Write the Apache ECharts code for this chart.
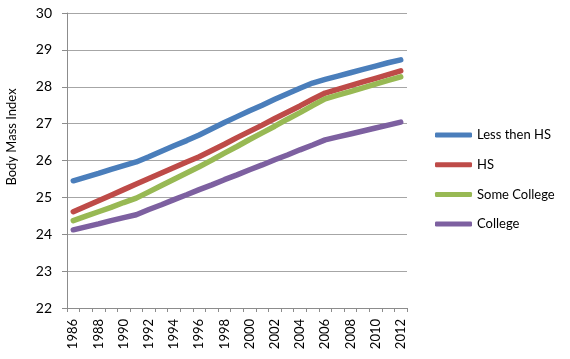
<!DOCTYPE html>
<html>
<head>
<meta charset="utf-8">
<script src="https://cdn.jsdelivr.net/npm/echarts@6/dist/echarts.min.js"></script>
<style>html,body{margin:0;padding:0;background:#fff;}#c{width:570px;height:359px;}</style>
</head>
<body>
<div id="c"></div>
<script>
const years = ['1986','1987','1988','1989','1990','1991','1992','1993','1994','1995','1996','1997','1998','1999','2000','2001','2002','2003','2004','2005','2006','2007','2008','2009','2010','2011','2012'];
const lessThenHS = [25.45,25.55,25.65,25.76,25.86,25.96,26.10,26.25,26.40,26.54,26.69,26.86,27.03,27.19,27.35,27.50,27.66,27.81,27.96,28.10,28.20,28.29,28.38,28.47,28.56,28.65,28.73];
const hs = [24.61,24.76,24.91,25.06,25.21,25.36,25.51,25.66,25.81,25.96,26.10,26.27,26.44,26.62,26.79,26.96,27.14,27.31,27.48,27.66,27.83,27.93,28.03,28.13,28.23,28.33,28.43];
const someCollege = [24.37,24.49,24.61,24.73,24.86,24.98,25.15,25.32,25.49,25.66,25.83,26.01,26.20,26.38,26.57,26.75,26.93,27.12,27.30,27.49,27.67,27.77,27.87,27.97,28.07,28.17,28.27];
const college = [24.12,24.20,24.28,24.37,24.45,24.53,24.67,24.80,24.94,25.07,25.21,25.34,25.48,25.61,25.75,25.88,26.02,26.15,26.29,26.42,26.56,26.64,26.72,26.80,26.88,26.96,27.04];
const seriesNames = ['Less then HS','HS','Some College','College'];
const colors = ['#4A7EBB','#BE4B48','#98B954','#7D60A0'];
const yAxisName = 'Body Mass Index';

const font = 'Lato, "Liberation Sans", sans-serif';
const chart = echarts.init(document.getElementById('c'));
const dataSets = [lessThenHS, hs, someCollege, college];
chart.setOption({
  animation: false,
  grid: {left: 67, right: 163, top: 13, bottom: 51, containLabel: false},
  graphic: [{
    type: 'text', x: 12, y: 137, rotation: Math.PI / 2,
    style: {text: yAxisName, fontFamily: font, fontSize: 13, fill: '#000', align: 'center', verticalAlign: 'middle'}
  }],
  legend: {
    orient: 'vertical', left: 430, top: 122,
    itemWidth: 37, itemHeight: 5, itemGap: 13.7,
    icon: 'roundRect',
    textStyle: {fontFamily: font, fontSize: 13, color: '#000', lineHeight: 16},
    data: seriesNames
  },
  xAxis: {
    type: 'category', data: years, boundaryGap: true,
    axisLine: {lineStyle: {color: '#8c8c8c', width: 1}},
    axisTick: {show: true, interval: 0, length: 4, lineStyle: {color: '#8c8c8c'}},
    axisLabel: {interval: 1, rotate: 90, margin: 11, fontFamily: font, fontSize: 13, color: '#000'}
  },
  yAxis: {
    type: 'value', min: 22, max: 30, interval: 1,
    axisLine: {show: true, lineStyle: {color: '#8c8c8c', width: 1}},
    axisTick: {show: true, length: 5, lineStyle: {color: '#8c8c8c'}},
    axisLabel: {margin: 15, fontFamily: font, fontSize: 14, color: '#000'},
    splitLine: {lineStyle: {color: '#a6a6a6', width: 1}}
  },
  series: seriesNames.map((n, i) => ({
    name: n, type: 'line', data: dataSets[i],
    showSymbol: false, symbol: 'none',
    lineStyle: {color: colors[i], width: 5.5, cap: 'round', join: 'round'},
    itemStyle: {color: colors[i]}
  }))
});
</script>
</body>
</html>
